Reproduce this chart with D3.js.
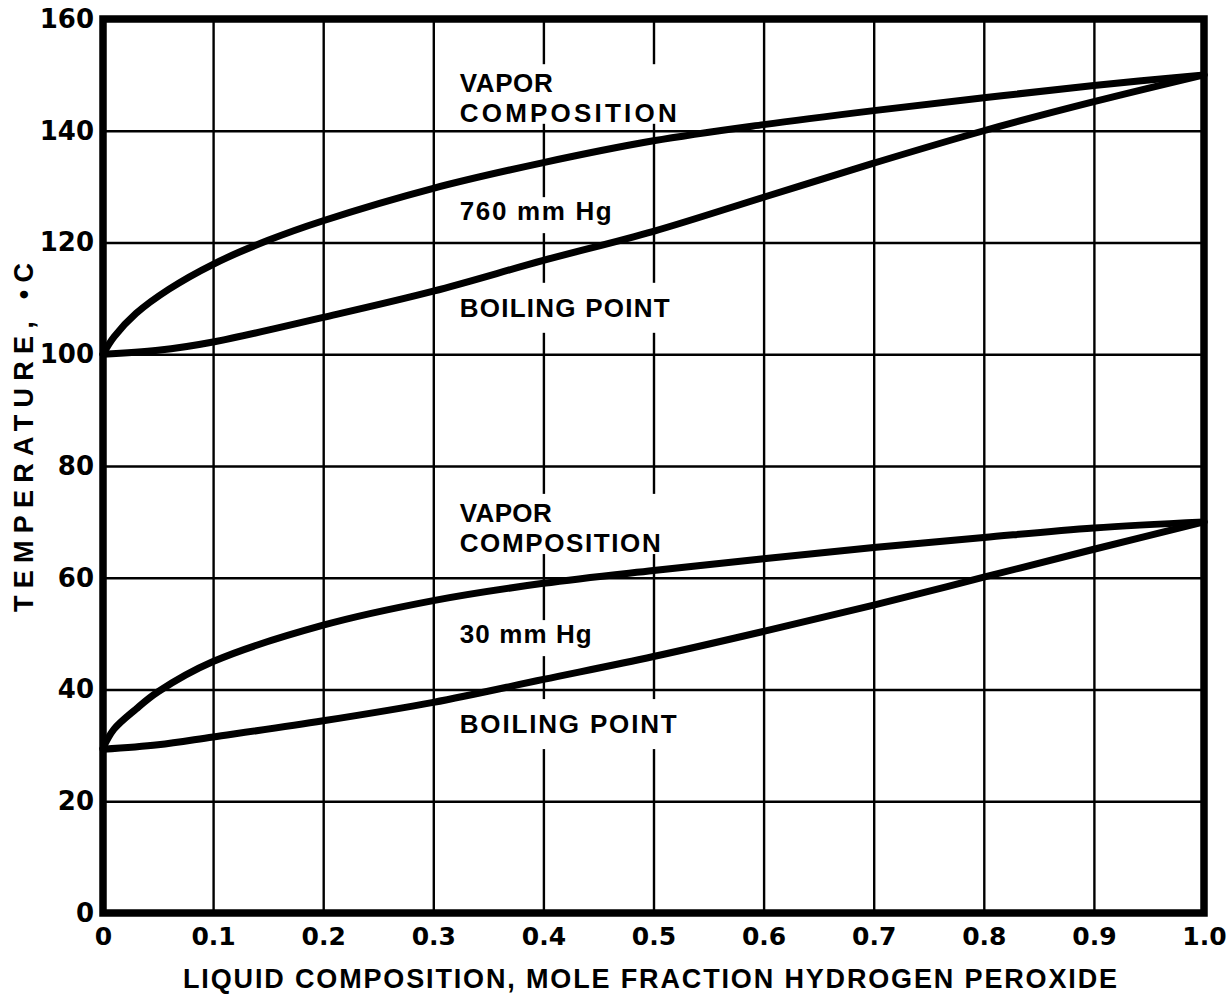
<!DOCTYPE html>
<html>
<head>
<meta charset="utf-8">
<script src="https://cdn.jsdelivr.net/npm/d3@7"></script>
<style>
  body { margin: 0; background: #fff; }
  svg { display: block; }
</style>
</head>
<body>
<svg id="chart" width="1230" height="998"></svg>
<script>
// ---- data -------------------------------------------------------------
const xTickValues = [0, 0.1, 0.2, 0.3, 0.4, 0.5, 0.6, 0.7, 0.8, 0.9, 1.0];
const xTickLabels = ["0", "0.1", "0.2", "0.3", "0.4", "0.5", "0.6", "0.7", "0.8", "0.9", "1.0"];
const yTickValues = [0, 20, 40, 60, 80, 100, 120, 140, 160];
const yTickLabels = ["0", "20", "40", "60", "80", "100", "120", "140", "160"];

// 760 mm Hg
const vapor760X = [0, 0.01, 0.03, 0.06, 0.1, 0.15, 0.2, 0.3, 0.4, 0.5, 0.6, 0.7, 0.8, 0.9, 1.0];
const vapor760T = [100, 103.1, 107.3, 111.65, 116.1, 120.4, 123.9, 129.7, 134.3, 138.2, 141.1, 143.6, 145.9, 148.1, 150];
const boil760X = [0, 0.05, 0.1, 0.2, 0.3, 0.4, 0.5, 0.6, 0.7, 0.8, 0.9, 1.0];
const boil760T = [100, 100.7, 102.2, 106.6, 111.3, 116.8, 122, 128.1, 134.2, 140, 145.2, 150];

// 30 mm Hg
const vapor30X = [0, 0.01, 0.03, 0.05, 0.1, 0.2, 0.3, 0.4, 0.5, 0.6, 0.7, 0.8, 0.9, 1.0];
const vapor30T = [29.5, 32.9, 36.5, 39.6, 45, 51.5, 55.9, 59.0, 61.3, 63.4, 65.4, 67.2, 68.9, 70];
const boil30X = [0, 0.05, 0.1, 0.2, 0.3, 0.4, 0.5, 0.6, 0.7, 0.8, 0.9, 1.0];
const boil30T = [29.3, 30.1, 31.5, 34.4, 37.7, 41.8, 45.9, 50.4, 55.1, 60.1, 65.1, 70];

const notes760 = ["VAPOR", "COMPOSITION", "760 mm Hg", "BOILING POINT"];
const notes30 = ["VAPOR", "COMPOSITION", "30 mm Hg", "BOILING POINT"];

const xTitle = "LIQUID COMPOSITION, MOLE FRACTION HYDROGEN PEROXIDE";
const yTitle = "TEMPERATURE, \u2022C";

// ---- drawing ----------------------------------------------------------
const svg = d3.select("#chart");
const x = d3.scaleLinear().domain([0, 1]).range([103, 1204]);
const y = d3.scaleLinear().domain([0, 160]).range([913, 19]);
const [x0, x1] = x.range();
const [y0, y1] = y.range();

const LABEL_FONT = "'Liberation Sans', Arial, sans-serif";
const TICK_FONT = "'DejaVu Sans', sans-serif";

// vertical grid
const gx = svg.append("g")
  .attr("transform", `translate(0,${y0})`)
  .call(d3.axisBottom(x).tickValues(xTickValues).tickSize(-(y0 - y1)).tickFormat(""));
gx.select(".domain").remove();
gx.selectAll("line").attr("stroke", "#000").attr("stroke-width", 2.4);

// white patches behind the annotations interrupt the vertical rules
const notePlacement = [
  { x: 0.324, t: [146.9, 141.6, 124.0, 106.7], w: [93, 217, 152, 210], lines: notes760 },
  { x: 0.324, t: [70.0, 64.6, 48.3, 32.2], w: [92, 201, 132, 217], lines: notes30 }
];
const maskG = svg.append("g");
notePlacement.forEach(p => {
  const left = x(p.x) - 8;
  // stacked VAPOR / COMPOSITION
  maskG.append("rect")
    .attr("x", left).attr("y", y(p.t[0]) - 28)
    .attr("width", p.w[1] + 16).attr("height", y(p.t[1]) - y(p.t[0]) + 30)
    .attr("fill", "#fff");
  // pressure
  maskG.append("rect")
    .attr("x", left).attr("y", y(p.t[2]) - 23)
    .attr("width", p.w[2] + 16).attr("height", 36)
    .attr("fill", "#fff");
  // boiling point
  maskG.append("rect")
    .attr("x", left).attr("y", y(p.t[3]) - 34)
    .attr("width", p.w[3] + 16).attr("height", 50)
    .attr("fill", "#fff");
});

// horizontal grid
const gy = svg.append("g")
  .attr("transform", `translate(${x0},0)`)
  .call(d3.axisLeft(y).tickValues(yTickValues).tickSize(-(x1 - x0)).tickFormat(""));
gy.select(".domain").remove();
gy.selectAll("line").attr("stroke", "#000").attr("stroke-width", 2.4);

// curves
const line = d3.line().x(d => x(d[0])).y(d => y(d[1])).curve(d3.curveCatmullRom.alpha(0.5));
const series = [
  [vapor760X, vapor760T],
  [boil760X, boil760T],
  [vapor30X, vapor30T],
  [boil30X, boil30T]
];
svg.append("g").selectAll("path")
  .data(series.map(([xs, ts]) => xs.map((v, i) => [v, ts[i]])))
  .join("path")
  .attr("d", line)
  .attr("fill", "none")
  .attr("stroke", "#000")
  .attr("stroke-width", 7)
  .attr("stroke-linecap", "round")
  .attr("stroke-linejoin", "round");

// frame
svg.append("rect")
  .attr("x", x0).attr("y", y1)
  .attr("width", x1 - x0).attr("height", y0 - y1)
  .attr("fill", "none").attr("stroke", "#000").attr("stroke-width", 7.5);

// tick labels
const ax = svg.append("g")
  .attr("transform", `translate(0,${y0})`)
  .call(d3.axisBottom(x).tickValues(xTickValues).tickSize(0).tickPadding(14)
    .tickFormat((d, i) => xTickLabels[i]));
ax.select(".domain").remove();
ax.selectAll("text")
  .attr("font-family", TICK_FONT).attr("font-weight", "bold")
  .attr("font-size", 25).attr("fill", "#000");

const ay = svg.append("g")
  .attr("transform", `translate(${x0},0)`)
  .call(d3.axisLeft(y).tickValues(yTickValues).tickSize(0).tickPadding(9)
    .tickFormat((d, i) => yTickLabels[i]));
ay.select(".domain").remove();
ay.selectAll("text")
  .attr("font-family", TICK_FONT).attr("font-weight", "bold")
  .attr("font-size", 26).attr("fill", "#000");

// annotations
notePlacement.forEach(p => {
  p.lines.forEach((s, i) => {
    svg.append("text")
      .attr("x", x(p.x)).attr("y", y(p.t[i]))
      .attr("font-family", LABEL_FONT).attr("font-weight", "bold")
      .attr("font-size", 26)
      .attr("textLength", p.w[i]).attr("lengthAdjust", "spacing")
      .text(s);
  });
});

// axis titles
svg.append("text")
  .attr("x", 183).attr("y", 988)
  .attr("font-family", LABEL_FONT).attr("font-weight", "bold")
  .attr("font-size", 27)
  .attr("textLength", 934).attr("lengthAdjust", "spacing")
  .text(xTitle);

svg.append("text")
  .attr("transform", "translate(33,612) rotate(-90)")
  .attr("font-family", LABEL_FONT).attr("font-weight", "bold")
  .attr("font-size", 27)
  .attr("textLength", 349).attr("lengthAdjust", "spacing")
  .text(yTitle);
</script>
</body>
</html>
